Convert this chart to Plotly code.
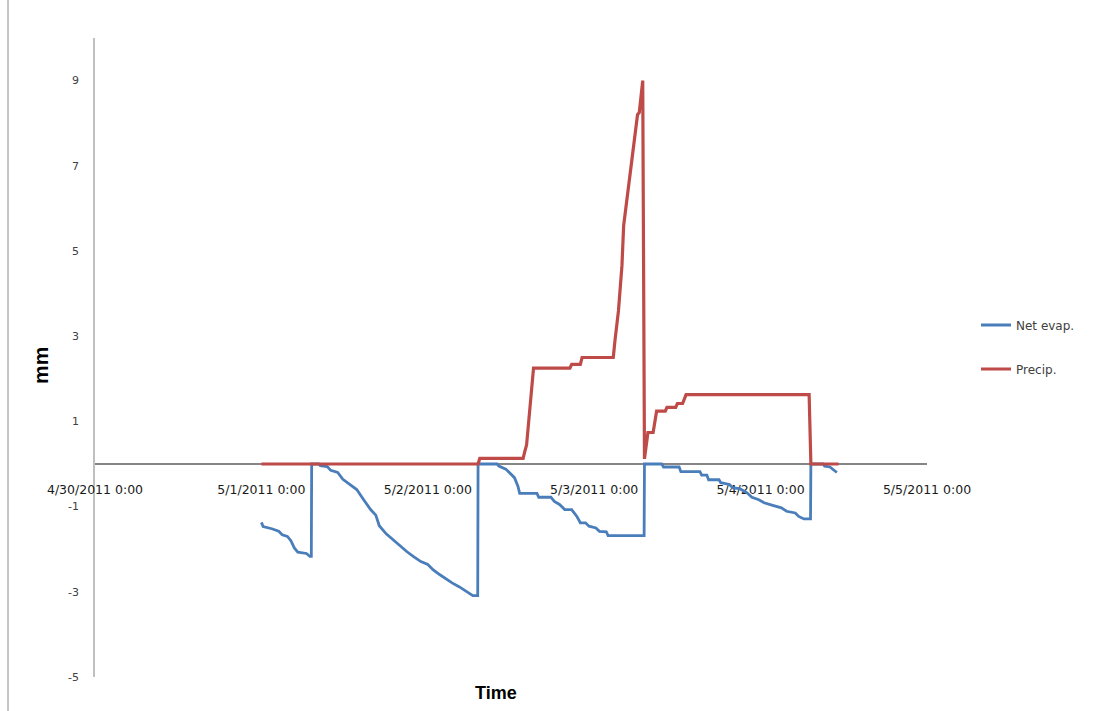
import pandas as pd
import plotly.graph_objects as go

# Elapsed hours since 5/1/2011 0:00 and the values (mm) at each step
start = pd.Timestamp("2011-05-01 00:00")

evap_hours = [
    0, 0.25, 1.5, 2.5, 3.0, 3.75, 4.25, 4.75, 5.25, 6.5, 7.0, 7.2,
    7.25, 8.25, 8.5, 9.5, 10.0, 11.0, 11.75, 12.75, 13.75, 14.75, 15.75, 16.5,
    17.0, 18.0, 19.0, 20.0, 21.0, 22.0, 23.0, 24.0, 24.75, 25.75, 26.75, 27.5,
    28.5, 29.75, 30.5, 31.2,
    31.25, 34.0, 34.25, 35.25, 36.0, 36.5, 37.0, 37.25, 39.75, 40.0, 41.75,
    42.25, 43.0, 43.75, 44.75, 45.5, 46.0, 46.75, 47.25, 48.25, 48.75, 49.75,
    50.0, 55.2,
    55.25, 57.75, 58.0, 60.25, 60.5, 63.25, 63.5, 64.25, 64.5, 66.0, 66.25,
    67.5, 68.0, 69.0, 70.0, 70.75, 71.75, 72.5, 73.75, 75.0, 75.75, 77.0,
    77.5, 78.25, 79.2,
    79.25, 81.0, 81.25, 82.0, 82.25, 83.0,
]
evap_mm = [
    -1.37, -1.47, -1.52, -1.58, -1.66, -1.70, -1.80, -1.97, -2.07, -2.10, -2.17, -2.17,
    0, 0, -0.04, -0.06, -0.15, -0.20, -0.36, -0.48, -0.60, -0.84, -1.07, -1.20,
    -1.45, -1.64, -1.78, -1.94, -2.06, -2.18, -2.29, -2.36, -2.48, -2.60, -2.72, -2.79,
    -2.88, -3.00, -3.09, -3.09,
    0, 0, -0.05, -0.12, -0.25, -0.32, -0.52, -0.69, -0.69, -0.78, -0.78,
    -0.88, -0.95, -1.07, -1.07, -1.23, -1.38, -1.38, -1.46, -1.50, -1.58, -1.59,
    -1.68, -1.68,
    0, 0, -0.07, -0.07, -0.18, -0.18, -0.26, -0.26, -0.37, -0.37, -0.44,
    -0.48, -0.56, -0.58, -0.67, -0.78, -0.84, -0.91, -0.97, -1.03, -1.11, -1.15,
    -1.23, -1.29, -1.29,
    0, 0, -0.05, -0.07, -0.10, -0.20,
]

precip_hours = [
    0, 31.25, 31.5, 37.75, 38.0, 38.25, 39.25, 44.5, 44.75, 46.0, 46.25, 50.75,
    51.0, 51.5, 52.0, 52.25, 52.75, 53.25, 53.5, 54.0, 54.25, 54.5, 55.0, 55.25,
    55.75, 56.5, 57.0, 58.25, 58.5, 59.75, 60.0, 60.75, 61.25, 79.0, 79.25, 83.25,
]
precip_mm = [
    0, 0, 0.13, 0.13, 0.30, 0.45, 2.25, 2.25, 2.34, 2.34, 2.50, 2.50,
    2.90, 3.60, 4.65, 5.60, 6.25, 6.90, 7.30, 7.80, 8.20, 8.25, 9.00, 0.12,
    0.74, 0.74, 1.24, 1.24, 1.33, 1.33, 1.42, 1.42, 1.63, 1.63, 0, 0,
]

tick_dates = ["2011-04-30", "2011-05-01", "2011-05-02", "2011-05-03", "2011-05-04", "2011-05-05"]
tick_text = ["4/30/2011 0:00", "5/1/2011 0:00", "5/2/2011 0:00",
             "5/3/2011 0:00", "5/4/2011 0:00", "5/5/2011 0:00"]
y_ticks = [-5, -3, -1, 1, 3, 5, 7, 9]
y_tick_text = ["-5", "-3", "-1", "1", "3", "5", "7", "9"]

evap_t = start + pd.to_timedelta(evap_hours, unit="h")
precip_t = start + pd.to_timedelta(precip_hours, unit="h")

fig = go.Figure()
fig.add_trace(go.Scatter(
    x=evap_t, y=evap_mm, mode="lines", name="Net evap.",
    line=dict(color="#4A7EBB", width=2.8), legendgroup="evap",
))
fig.add_trace(go.Scatter(
    x=precip_t, y=precip_mm, mode="lines", name="Precip.",
    line=dict(color="#BE4B48", width=3.2), legendgroup="precip",
))

axis_grey = "#868686"
y_min, y_max = -5, 10

fig.update_layout(
    width=1098, height=711,
    margin=dict(l=95, r=171, t=38, b=34),
    paper_bgcolor="white", plot_bgcolor="white",
    font=dict(family="DejaVu Sans", color="#404040"),
    xaxis=dict(
        type="date",
        range=[tick_dates[0], tick_dates[-1]],
        tickmode="array", tickvals=tick_dates, ticktext=tick_text,
        showgrid=False, zeroline=False,
        showline=True, linecolor=axis_grey, linewidth=1.5,
        anchor="free", position=(0 - y_min) / (y_max - y_min),
        layer="below traces",
        ticks="", ticklabelstandoff=14,
        tickfont=dict(family="DejaVu Sans", size=12.5, color="#1A1A1A"),
    ),
    yaxis=dict(
        range=[y_min, y_max],
        tickmode="array", tickvals=y_ticks, ticktext=y_tick_text,
        showgrid=False, zeroline=False,
        showline=True, linecolor="#BFBFBF", linewidth=1.5,
        layer="below traces",
        ticks="", ticklabelstandoff=12,
        tickfont=dict(family="DejaVu Sans", size=11, color="#404040"),
    ),
    legend=dict(
        x=(976 - 95) / 832, xanchor="left", y=(677 - 347) / 639, yanchor="middle",
        bgcolor="rgba(0,0,0,0)", font=dict(size=12, color="#404040"),
        itemwidth=30, traceorder="grouped", tracegroupgap=25,
    ),
    annotations=[
        dict(text="<b>mm</b>", xref="paper", yref="paper",
             x=(40 - 95) / 832, y=(677 - 366) / 639,
             xanchor="center", yanchor="middle",
             textangle=-90, showarrow=False,
             font=dict(family="Liberation Sans", size=21, color="black")),
        dict(text="<b>Time</b>", xref="paper", yref="paper",
             x=(496 - 95) / 832, y=(677 - 693) / 639,
             xanchor="center", yanchor="middle",
             showarrow=False,
             font=dict(family="Liberation Sans", size=18, color="black")),
    ],
    shapes=[
        dict(type="line", xref="paper", yref="paper",
             x0=(8 - 95) / 832, x1=(8 - 95) / 832,
             y0=(677 - 711) / 639, y1=(677 - 0) / 639,
             line=dict(color="#8C8C8C", width=1)),
    ],
)

fig.write_html("out.html")
